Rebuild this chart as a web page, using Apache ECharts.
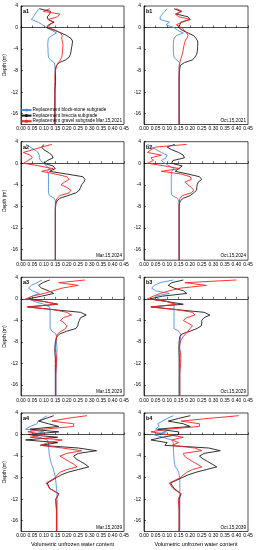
<!DOCTYPE html>
<html>
<head>
<meta charset="utf-8">
<script src="https://cdn.jsdelivr.net/npm/echarts@6/dist/echarts.min.js"></script>
<style>
html,body{margin:0;padding:0;background:#fff;}
#c{width:258px;height:550px;}
</style>
</head>
<body>
<div id="c"></div>
<script>
// Depth grid (m)
const DEPTH = [3.5,3,2.5,2,1.5,1,0.5,0,-0.5,-1,-1.5,-2,-2.5,-3,-3.5,-4,-4.5,-5,-5.5,-6,-6.5,-7,-7.5,-8,-9,-10,-11,-12,-14,-16,-18];

const SERIES_NAMES = ['Replacement block-stone subgrade','Replacement breccia subgrade','Replacement gravel subgrade'];
const PANEL_TAGS = ['a1','b1','a2','b2','a3','b3','a4','b4'];
const PANEL_DATES = ['Mar.15,2021','Oct.15,2021','Mar.15,2024','Oct.15,2024','Mar.15,2029','Oct.15,2029','Mar.15,2039','Oct.15,2039'];
const X_TICKS = [0,0.05,0.1,0.15,0.2,0.25,0.3,0.35,0.4,0.45];
const Y_TICKS = [4,0,-4,-8,-12,-16];

// a1
const a1Blue  = [0.078,0.07,0.062,0.054,0.045,0.075,0.094,0.11,0.133,0.155,0.135,0.12,0.118,0.117,0.117,0.118,0.118,0.119,0.12,0.128,0.145,0.148,0.148,0.149,0.15,0.15,0.149,0.148,0.148,0.148,0.148];
const a1Black = [0.08,0.13,0.125,0.115,0.118,0.145,0.12,0.112,0.145,0.175,0.2,0.218,0.225,0.224,0.222,0.22,0.218,0.216,0.21,0.195,0.168,0.155,0.152,0.15,0.151,0.151,0.149,0.148,0.148,0.148,0.148];
const a1Red   = [0.125,0.098,0.17,0.16,0.12,0.14,0.125,0.12,0.15,0.172,0.18,0.178,0.18,0.183,0.183,0.182,0.181,0.18,0.178,0.172,0.163,0.157,0.153,0.15,0.148,0.148,0.148,0.148,0.148,0.148,0.148];
// b1
const b1Blue  = [0.1,0.09,0.08,0.07,0.07,0.11,0.095,0.13,0.145,0.17,0.14,0.13,0.128,0.127,0.127,0.127,0.127,0.128,0.13,0.14,0.155,0.153,0.152,0.152,0.152,0.152,0.152,0.152,0.152,0.152,0.152];
const b1Black = [0.13,0.16,0.14,0.19,0.2,0.16,0.155,0.15,0.165,0.19,0.215,0.225,0.232,0.233,0.232,0.232,0.23,0.228,0.22,0.21,0.175,0.158,0.155,0.154,0.152,0.152,0.152,0.152,0.152,0.152,0.152];
const b1Red   = [0.14,0.165,0.135,0.15,0.2,0.165,0.14,0.16,0.175,0.185,0.19,0.185,0.178,0.175,0.172,0.17,0.168,0.165,0.162,0.158,0.155,0.153,0.152,0.152,0.152,0.152,0.152,0.152,0.152,0.152,0.152];
// a2
const a2Blue  = [0.022,0.04,0.06,0.075,0.08,0.08,0.085,0.1,0.11,0.125,0.115,0.12,0.12,0.12,0.12,0.12,0.12,0.12,0.12,0.125,0.145,0.15,0.15,0.15,0.15,0.15,0.15,0.15,0.15,0.15,0.15];
const a2Black = [0.1,0.09,0.1,0.12,0.135,0.14,0.115,0.1,0.14,0.15,0.125,0.2,0.27,0.28,0.275,0.265,0.26,0.255,0.24,0.205,0.17,0.157,0.153,0.151,0.15,0.15,0.15,0.15,0.15,0.15,0.15];
const a2Red   = [0.135,0.09,0.05,0.01,0.04,0.05,0.03,0.012,0.08,0.14,0.09,0.15,0.2,0.21,0.19,0.175,0.2,0.218,0.21,0.17,0.158,0.153,0.151,0.15,0.15,0.15,0.15,0.15,0.15,0.15,0.15];
// b2
const b2Blue  = [0.015,0.035,0.055,0.075,0.1,0.095,0.075,0.09,0.11,0.13,0.12,0.12,0.118,0.118,0.118,0.118,0.118,0.118,0.118,0.122,0.145,0.15,0.152,0.152,0.152,0.152,0.152,0.152,0.152,0.152,0.152];
const b2Black = [0.133,0.1,0.12,0.15,0.17,0.175,0.125,0.12,0.165,0.15,0.135,0.19,0.24,0.25,0.235,0.23,0.228,0.228,0.215,0.2,0.17,0.157,0.153,0.152,0.152,0.152,0.152,0.152,0.152,0.152,0.152];
const b2Red   = [0.185,0.05,0.03,0.015,0.075,0.03,0.04,0.015,0.09,0.155,0.075,0.16,0.2,0.205,0.177,0.19,0.205,0.215,0.205,0.165,0.156,0.153,0.152,0.152,0.152,0.152,0.152,0.152,0.152,0.152,0.152];
// a3
const a3Blue  = [0.092,0.07,0.045,0.033,0.05,0.08,0.05,0.03,0.06,0.1,0.125,0.127,0.127,0.127,0.127,0.127,0.127,0.127,0.128,0.135,0.152,0.155,0.155,0.155,0.157,0.157,0.156,0.155,0.153,0.153,0.153];
const a3Black = [0.125,0.095,0.077,0.09,0.12,0.143,0.09,0.033,0.1,0.16,0.03,0.14,0.26,0.285,0.26,0.255,0.25,0.248,0.24,0.2,0.17,0.157,0.153,0.15,0.148,0.148,0.15,0.15,0.15,0.15,0.15];
const a3Red   = [0.28,0.165,0.25,0.18,0.14,0.1,0.05,0.02,0.1,0.16,0.026,0.14,0.2,0.22,0.185,0.172,0.19,0.2,0.195,0.175,0.16,0.155,0.153,0.152,0.15,0.152,0.155,0.155,0.152,0.152,0.152];
// b3
const b3Blue  = [0.127,0.069,0.045,0.033,0.05,0.11,0.05,0.06,0.1,0.13,0.13,0.13,0.13,0.13,0.13,0.13,0.13,0.13,0.13,0.15,0.158,0.158,0.157,0.156,0.155,0.155,0.155,0.155,0.155,0.155,0.155];
const b3Black = [0.17,0.12,0.105,0.13,0.17,0.185,0.08,0.026,0.1,0.17,0.03,0.14,0.26,0.285,0.26,0.25,0.25,0.248,0.23,0.2,0.165,0.155,0.153,0.152,0.151,0.151,0.152,0.152,0.152,0.152,0.152];
const b3Red   = [0.4,0.177,0.27,0.16,0.11,0.07,0.04,0.015,0.1,0.14,0.03,0.14,0.21,0.22,0.185,0.17,0.19,0.21,0.2,0.19,0.18,0.17,0.162,0.157,0.152,0.158,0.16,0.158,0.155,0.155,0.155];
// a4
const a4Blue  = [0.114,0.095,0.075,0.07,0.04,0.02,0.1,0.045,0.08,0.115,0.12,0.12,0.121,0.122,0.123,0.125,0.127,0.13,0.133,0.138,0.142,0.145,0.148,0.15,0.153,0.155,0.157,0.158,0.158,0.158,0.158];
const a4Black = [0.143,0.11,0.077,0.12,0.165,0.04,0.165,0.03,0.16,0.02,0.16,0.085,0.25,0.33,0.25,0.23,0.24,0.26,0.28,0.296,0.25,0.205,0.175,0.155,0.115,0.125,0.165,0.152,0.155,0.155,0.155];
const a4Red   = [0.288,0.2,0.135,0.23,0.23,0.1,0.03,0.1,0.04,0.18,0.12,0.085,0.18,0.265,0.2,0.17,0.19,0.21,0.23,0.245,0.2,0.17,0.158,0.15,0.11,0.125,0.165,0.152,0.155,0.155,0.155];
// b4
const b4Blue  = [0.127,0.1,0.08,0.06,0.065,0.05,0.098,0.04,0.08,0.12,0.127,0.127,0.127,0.128,0.128,0.129,0.13,0.131,0.133,0.135,0.145,0.15,0.152,0.155,0.155,0.155,0.155,0.155,0.155,0.155,0.155];
const b4Black = [0.2,0.15,0.105,0.17,0.2,0.06,0.15,0.15,0.08,0.03,0.1,0.09,0.28,0.33,0.26,0.24,0.255,0.275,0.295,0.315,0.27,0.225,0.19,0.165,0.115,0.13,0.16,0.152,0.152,0.152,0.152];
const b4Red   = [0.41,0.28,0.16,0.24,0.24,0.1,0.03,0.1,0.17,0.12,0.15,0.12,0.22,0.25,0.17,0.175,0.19,0.21,0.23,0.25,0.21,0.185,0.17,0.157,0.11,0.125,0.16,0.148,0.152,0.152,0.152];

const PANELS = [
  [a1Blue,a1Black,a1Red],[b1Blue,b1Black,b1Red],
  [a2Blue,a2Black,a2Red],[b2Blue,b2Black,b2Red],
  [a3Blue,a3Black,a3Red],[b3Blue,b3Black,b3Red],
  [a4Blue,a4Black,a4Red],[b4Blue,b4Black,b4Red]
];

const COLORS = ['#4a8ee6','#1a1a1a','#ff2020'];
const FONT = 'Liberation Sans, Arial, sans-serif';

const colLeft = [21, 144];
const colWidth = [103, 104];
const rowTop = [6, 141.7, 277.3, 413];
const H = 118.5;

const grids = [], xAxes = [], yAxes = [], series = [], graphics = [];
PANELS.forEach((vals, p) => {
  const r = Math.floor(p / 2), c = p % 2;
  grids.push({left: colLeft[c], top: rowTop[r], width: colWidth[c], height: H,
    show: true, borderColor: '#000', borderWidth: 0.7, backgroundColor: 'transparent'});
  xAxes.push({
    gridIndex: p, type: 'value', min: 0, max: 0.45, interval: 0.05,
    axisLine: {show: true, lineStyle: {color: '#000', width: 0.7}},
    axisTick: {show: true, inside: true, length: 2, lineStyle: {color: '#000', width: 0.6}},
    axisLabel: {fontSize: 5, color: '#000', margin: 2, fontFamily: FONT,
      customValues: X_TICKS, formatter: v => v.toFixed(2)},
    splitLine: {show: false},
    name: r === 3 ? 'Volumetric unfrozen water content' : '',
    nameLocation: 'middle', nameGap: 10,
    nameTextStyle: {fontSize: 5.5, color: '#000', fontFamily: FONT}
  });
  yAxes.push({
    gridIndex: p, type: 'value', min: -18, max: 4,
    axisLine: {show: true, lineStyle: {color: '#000', width: 0.7}},
    axisTick: {show: true, inside: true, length: 2, customValues: Y_TICKS, lineStyle: {color: '#000', width: 0.6}},
    axisLabel: {fontSize: 5, color: '#000', margin: 3, fontFamily: FONT, customValues: Y_TICKS},
    splitLine: {show: false},
    name: c === 0 ? 'Depth (m)' : '',
    nameLocation: 'middle', nameGap: 14, nameRotate: 90,
    nameTextStyle: {fontSize: 5, color: '#000', fontFamily: FONT}
  });
  vals.forEach((arr, s) => {
    series.push({
      name: SERIES_NAMES[s], type: 'line', xAxisIndex: p, yAxisIndex: p,
      data: DEPTH.map((d, i) => [arr[i], d]),
      symbol: 'none', showSymbol: false, silent: true,
      lineStyle: {color: COLORS[s], width: 0.9},
      itemStyle: {color: COLORS[s]},
      z: s === 2 ? 3 : (s === 1 ? 2 : 1)
    });
  });
  graphics.push({
    type: 'text', left: colLeft[c] + 2, top: rowTop[r] + 2.5,
    style: {text: PANEL_TAGS[p], fill: '#000', font: 'bold 5.5px ' + FONT}
  });
  graphics.push({
    type: 'text', right: 258 - (colLeft[c] + colWidth[c]) + 2, top: rowTop[r] + H - 6.5,
    style: {text: PANEL_DATES[p], fill: '#000', font: '4.7px ' + FONT}
  });
});

const chart = echarts.init(document.getElementById('c'), null, {renderer: 'canvas'});
chart.setOption({
  animation: false,
  backgroundColor: '#fff',
  grid: grids, xAxis: xAxes, yAxis: yAxes, series: series,
  legend: {
    data: SERIES_NAMES, orient: 'vertical', left: 20.5, top: 107.5,
    itemWidth: 10, itemHeight: 4, itemGap: 0.6, selectedMode: false,
    padding: 0,
    textStyle: {fontSize: 4.7, color: '#000', fontFamily: FONT, padding: [0,0,0,-4]}
  },
  graphic: graphics
});
</script>
</body>
</html>
